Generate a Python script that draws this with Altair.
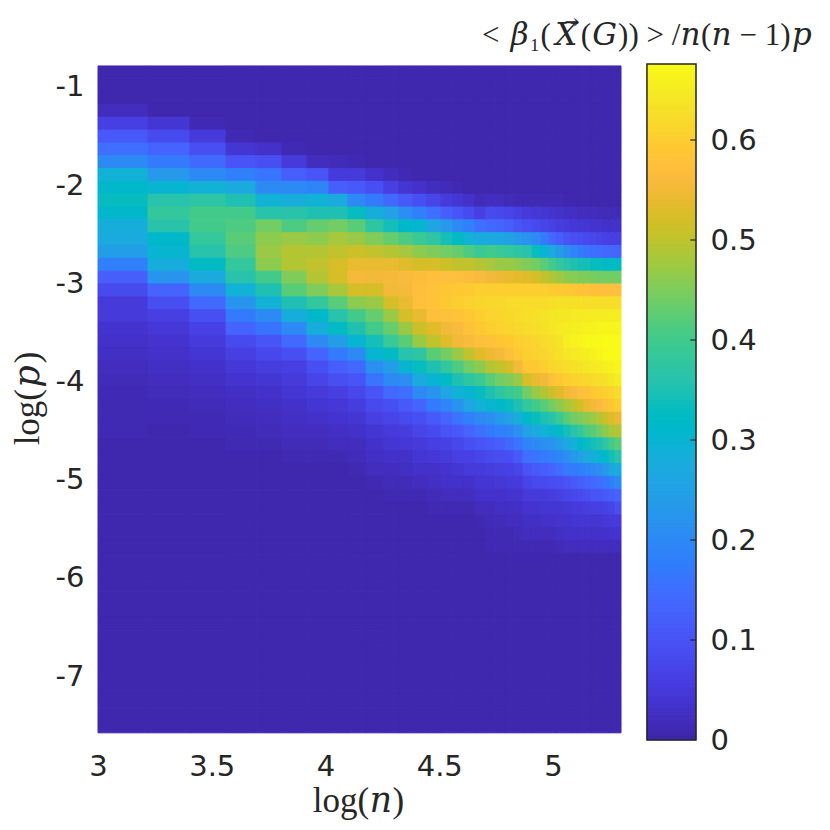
import altair as alt
import pandas as pd

# log(n) cell edges
n_edges = [3.000,3.220,3.404,3.563,3.695,3.809,3.919,4.015,4.099,4.178,4.257,4.323,4.385,4.446,4.508,4.560,4.609,4.657,4.705,4.749,4.789,4.829,4.868,4.908,4.947,4.982,5.013,5.048,5.079,5.110,5.136,5.167,5.193,5.220,5.246,5.273,5.299]
# log(p) cell edges
p_edges = [-0.786,-0.917,-1.047,-1.178,-1.308,-1.439,-1.570,-1.700,-1.831,-1.961,-2.092,-2.223,-2.353,-2.484,-2.614,-2.745,-2.876,-3.006,-3.137,-3.267,-3.398,-3.529,-3.659,-3.790,-3.920,-4.051,-4.182,-4.312,-4.443,-4.573,-4.704,-4.835,-4.965,-5.096,-5.226,-5.357,-5.488,-5.618,-5.749,-5.879,-6.010,-6.141,-6.271,-6.402,-6.532,-6.663,-6.794,-6.924,-7.055,-7.185,-7.316,-7.447,-7.577]
background = 0.005

# (first row, values downward)
col00 = (3, [.02,.06,.11,.15,.20,.29,.31,.33,.31,.28,.27,.24,.18,.12,.08,.05,.05,.035,.03,.025,.02,.015,.012,.01,.01,.01])
col01 = (3, [.005,.04,.08,.13,.17,.23,.30,.36,.38,.36,.31,.30,.28,.22,.13,.09,.06,.045,.035,.03,.025,.02,.015,.012,.01])
col02 = (4, [.01,.05,.09,.14,.20,.29,.37,.40,.40,.38,.36,.32,.27,.20,.14,.09,.065,.05,.04,.03,.025,.02,.015,.012,.01])
col03 = (5, [.01,.04,.10,.18,.27,.35,.40,.41,.42,.41,.38,.36,.29,.22,.17,.13,.08,.06,.045,.035,.025,.02,.015,.012,.01])
col04 = (5, [.005,.03,.09,.16,.20,.29,.36,.44,.46,.47,.46,.40,.35,.29,.20,.16,.10,.075,.055,.04,.03,.025,.02,.015,.01])
col05 = (6, [.01,.05,.12,.20,.28,.36,.41,.47,.49,.49,.45,.42,.35,.28,.20,.14,.09,.06,.05,.04,.03,.025,.02,.015,.01])
col06 = (7, [.02,.10,.19,.29,.35,.43,.46,.49,.50,.49,.45,.38,.31,.28,.20,.13,.09,.07,.05,.04,.03,.02,.015,.01])
col07 = (7, [.015,.05,.12,.27,.35,.44,.48,.50,.52,.52,.48,.42,.36,.32,.24,.17,.12,.09,.06,.045,.035,.025,.02,.01])
col08 = (7, [.01,.05,.11,.20,.33,.42,.47,.51,.54,.555,.52,.46,.40,.35,.30,.20,.14,.10,.075,.055,.04,.03,.02,.015,.01])
col09 = (8, [.03,.09,.17,.28,.37,.45,.50,.54,.55,.52,.47,.43,.40,.34,.30,.21,.16,.10,.08,.06,.04,.03,.025,.02,.01])
col10 = (8, [.02,.06,.14,.25,.34,.43,.49,.54,.555,.55,.52,.47,.43,.39,.32,.24,.20,.14,.09,.07,.05,.04,.03,.02,.015,.01])
col11 = (8, [.01,.04,.11,.21,.31,.41,.48,.53,.56,.555,.54,.52,.47,.42,.36,.30,.21,.15,.11,.08,.055,.045,.03,.025,.015,.01])
col12 = (8, [.005,.03,.09,.18,.30,.39,.46,.52,.565,.57,.57,.54,.51,.47,.37,.33,.27,.20,.13,.09,.07,.05,.04,.03,.02,.01])
col13 = (9, [.02,.07,.15,.26,.37,.45,.52,.57,.58,.58,.57,.53,.50,.42,.35,.30,.22,.17,.11,.08,.06,.045,.03,.025,.015,.01])
col14 = (9, [.015,.05,.12,.23,.34,.44,.51,.57,.585,.59,.575,.55,.53,.44,.38,.32,.26,.19,.13,.10,.065,.05,.035,.03,.02,.01])
col15 = (9, [.01,.04,.10,.20,.32,.43,.50,.57,.59,.60,.58,.56,.55,.47,.41,.35,.29,.22,.16,.11,.075,.06,.04,.03,.02,.01])
col16 = (9, [.005,.03,.08,.18,.29,.41,.50,.565,.595,.605,.59,.575,.56,.50,.44,.37,.30,.26,.18,.13,.09,.065,.05,.03,.02,.01])
col17 = (10, [.015,.06,.15,.27,.39,.49,.56,.60,.61,.60,.59,.57,.53,.46,.39,.33,.29,.20,.15,.10,.07,.05,.04,.03,.02,.01])
col18 = (10, [.02,.08,.14,.27,.40,.48,.55,.60,.615,.605,.60,.575,.545,.49,.42,.35,.30,.21,.17,.11,.08,.055,.04,.03,.02,.015,.01,.01])
col19 = (10, [.02,.075,.13,.26,.39,.47,.545,.60,.615,.61,.605,.585,.555,.50,.44,.37,.31,.23,.18,.12,.085,.06,.045,.03,.025,.015,.01,.01])
col20 = (10, [.015,.07,.12,.25,.38,.47,.54,.60,.62,.615,.61,.59,.57,.52,.45,.39,.33,.25,.19,.14,.09,.065,.05,.035,.025,.02,.01,.01])
col21 = (10, [.01,.06,.10,.23,.37,.46,.535,.60,.62,.62,.615,.60,.59,.55,.47,.40,.35,.28,.21,.16,.11,.07,.05,.035,.025,.02,.015,.01])
col22 = (10, [.01,.05,.09,.22,.36,.45,.53,.60,.62,.625,.62,.605,.60,.59,.52,.44,.38,.31,.25,.19,.15,.10,.07,.05,.035,.025,.02,.01])
col23 = (10, [.01,.045,.08,.20,.33,.44,.52,.60,.62,.63,.625,.61,.605,.59,.54,.47,.40,.33,.27,.20,.16,.11,.08,.05,.035,.025,.02,.01])
col24 = (10, [.01,.04,.07,.17,.30,.42,.50,.60,.62,.635,.63,.62,.61,.60,.55,.49,.42,.35,.29,.21,.17,.12,.08,.05,.04,.03,.02,.01])
col25 = (10, [.01,.035,.065,.14,.27,.40,.49,.595,.625,.64,.64,.625,.62,.61,.57,.51,.44,.36,.30,.22,.18,.13,.085,.055,.04,.03,.02,.01])
col26 = (10, [.01,.03,.055,.12,.24,.38,.475,.595,.63,.64,.645,.635,.63,.615,.59,.53,.46,.39,.32,.24,.19,.15,.09,.06,.04,.035,.025,.015])
col27 = (10, [.005,.025,.05,.10,.21,.36,.46,.59,.63,.64,.65,.655,.64,.625,.60,.55,.48,.42,.34,.27,.21,.17,.10,.07,.045,.035,.03,.02])
col28 = (10, [.005,.025,.045,.09,.19,.35,.455,.585,.63,.645,.655,.66,.645,.63,.605,.56,.50,.44,.36,.29,.23,.17,.11,.075,.05,.04,.03,.02])
col29 = (10, [.005,.02,.04,.085,.17,.34,.45,.58,.63,.645,.655,.665,.65,.635,.61,.57,.52,.45,.38,.31,.25,.18,.12,.08,.05,.04,.03,.02])
col30 = (10, [.005,.02,.04,.08,.16,.34,.45,.58,.625,.65,.66,.67,.655,.64,.615,.58,.54,.46,.41,.33,.27,.19,.13,.09,.055,.04,.03,.02])
col31 = (10, [.005,.02,.035,.075,.15,.33,.445,.575,.625,.65,.66,.67,.66,.645,.62,.59,.55,.47,.42,.34,.28,.20,.14,.10,.06,.04,.03,.02])
col32 = (10, [.005,.015,.035,.07,.145,.33,.44,.57,.625,.65,.665,.672,.665,.65,.625,.595,.56,.49,.44,.35,.30,.21,.15,.10,.06,.04,.03,.02])
col33 = (10, [.005,.015,.03,.065,.14,.32,.44,.57,.625,.65,.665,.675,.67,.655,.63,.60,.57,.51,.46,.37,.31,.23,.16,.11,.065,.045,.03,.02])
col34 = (10, [.005,.015,.03,.06,.135,.32,.44,.57,.625,.65,.665,.675,.675,.66,.64,.61,.59,.53,.48,.40,.34,.26,.18,.12,.07,.05,.035,.02])
col35 = (10, [.005,.015,.03,.06,.13,.32,.44,.57,.625,.65,.665,.675,.675,.665,.65,.62,.60,.54,.49,.42,.36,.28,.20,.13,.09,.05,.035,.02])
columns = [col00,col01,col02,col03,col04,col05,col06,col07,col08,col09,col10,col11,col12,col13,col14,col15,col16,col17,col18,col19,col20,col21,col22,col23,col24,col25,col26,col27,col28,col29,col30,col31,col32,col33,col34,col35]

parula = [(0.2422,0.1504,0.6603),(0.2504,0.1650,0.7076),(0.2578,0.1818,0.7511),(0.2647,0.1978,0.7952),(0.2706,0.2147,0.8364),(0.2751,0.2342,0.8710),(0.2783,0.2559,0.8991),(0.2803,0.2782,0.9221),(0.2813,0.3006,0.9414),(0.2810,0.3228,0.9579),(0.2795,0.3447,0.9717),(0.2760,0.3667,0.9829),(0.2699,0.3892,0.9906),(0.2602,0.4123,0.9952),(0.2440,0.4358,0.9988),(0.2206,0.4603,0.9973),(0.1963,0.4847,0.9892),(0.1834,0.5074,0.9798),(0.1786,0.5289,0.9682),(0.1764,0.5499,0.9520),(0.1687,0.5703,0.9359),(0.1540,0.5902,0.9218),(0.1460,0.6091,0.9079),(0.1380,0.6276,0.8973),(0.1248,0.6459,0.8883),(0.1113,0.6635,0.8763),(0.0952,0.6798,0.8598),(0.0689,0.6948,0.8394),(0.0297,0.7082,0.8163),(0.0036,0.7203,0.7917),(0.0067,0.7312,0.7660),(0.0433,0.7411,0.7394),(0.0964,0.7500,0.7120),(0.1408,0.7584,0.6842),(0.1717,0.7670,0.6554),(0.1938,0.7758,0.6251),(0.2161,0.7843,0.5923),(0.2470,0.7918,0.5567),(0.2906,0.7973,0.5188),(0.3406,0.8008,0.4789),(0.3909,0.8029,0.4354),(0.4456,0.8024,0.3909),(0.5044,0.7993,0.3480),(0.5616,0.7942,0.3045),(0.6174,0.7876,0.2612),(0.6720,0.7793,0.2227),(0.7242,0.7698,0.1910),(0.7738,0.7598,0.1646),(0.8203,0.7498,0.1535),(0.8634,0.7406,0.1596),(0.9035,0.7330,0.1774),(0.9393,0.7288,0.2100),(0.9728,0.7298,0.2394),(0.9956,0.7434,0.2371),(0.9970,0.7659,0.2199),(0.9952,0.7861,0.1967),(0.9892,0.8136,0.1885),(0.9786,0.8386,0.1766),(0.9676,0.8639,0.1643),(0.9610,0.8890,0.1537),(0.9597,0.9135,0.1423),(0.9628,0.9373,0.1265),(0.9691,0.9606,0.1064),(0.9769,0.9839,0.0805)]
bar_top = 0.676
color_hex = ['#%02x%02x%02x' % tuple(round(c * 255) for c in rgb) for rgb in parula]
color_domain = [bar_top * i / (len(color_hex) - 1) for i in range(len(color_hex))]
color_scale = alt.Scale(domain=color_domain, range=color_hex, clamp=True)

n_rows = len(p_edges) - 1
cells = []
for i, (first, vals) in enumerate(columns):
    for r in range(n_rows):
        k = r - first
        v = vals[k] if 0 <= k < len(vals) else background
        cells.append(dict(n1=n_edges[i], n2=n_edges[i + 1], p1=p_edges[r], p2=p_edges[r + 1], v=v))
cells_df = pd.DataFrame(cells)

x_scale = alt.Scale(domain=[3, 5.6286], nice=False, zero=False)
ink = '#262626'
TICK_FONT = 'DejaVu Sans'
TICK_SIZE = 29
MATH_FONT = 'Liberation Serif, "DejaVu Math TeX Gyre", "DejaVu Serif"'

x_axis = alt.Axis(values=[3, 3.5, 4, 4.5, 5], format='.1~f', title='log(𝑛)', grid=False, domain=False, ticks=False,
                  labelFont=TICK_FONT, labelFontSize=TICK_SIZE, labelColor=ink, labelPadding=12, labelFlush=False,
                  titleFont=MATH_FONT, titleFontSize=35, titleFontWeight='normal', titleColor=ink, titlePadding=2, titleX=260, labelOverlap=False)
y_axis = alt.Axis(values=[-1, -2, -3, -4, -5, -6, -7], title='log(𝑝)', grid=False, domain=False, ticks=False,
                  labelExpr="'-' + abs(datum.value)", labelFont=TICK_FONT, labelFontSize=TICK_SIZE, labelColor=ink, labelPadding=14,
                  titleFont=MATH_FONT, titleFontSize=35, titleFontWeight='normal', titleColor=ink, titlePadding=10, titleY=334, labelOverlap=False)

heat = alt.Chart(cells_df).mark_rect(strokeWidth=1).encode(
    x=alt.X('n1:Q', scale=x_scale, axis=x_axis),
    x2='n2:Q',
    y=alt.Y('p1:Q', scale=alt.Scale(domain=[-7.65, -0.766], nice=False, zero=False), axis=y_axis),
    y2='p2:Q',
    fill=alt.Fill('v:Q', scale=color_scale, legend=None),
    stroke=alt.Stroke('v:Q', scale=color_scale, legend=None),
)

bar_scale = alt.Scale(domain=[0, bar_top], nice=False, zero=True)
bar_steps = [round(i * 0.004, 3) for i in range(169)]
bar_df = pd.DataFrame({'v': bar_steps, 'v2': [s + 0.004 for s in bar_steps], 'a': 5.413, 'b': 5.6286})
bar_axis = alt.Axis(values=[0, .1, .2, .3, .4, .5, .6], format='.1~f', title=None, orient='right', grid=False, domain=False, ticks=False,
                    labelFont=TICK_FONT, labelFontSize=TICK_SIZE, labelColor=ink, labelPadding=14, labelOverlap=False, labelFlush=False)
bar = alt.Chart(bar_df).mark_rect(strokeWidth=0.5).encode(
    x=alt.X('a:Q', scale=x_scale), x2='b:Q',
    y=alt.Y('v:Q', scale=bar_scale, axis=bar_axis), y2='v2:Q',
    fill=alt.Fill('v:Q', scale=color_scale, legend=None),
    stroke=alt.Stroke('v:Q', scale=color_scale, legend=None),
)
frame = alt.Chart(pd.DataFrame({'a': [5.413], 'b': [5.6286], 'lo': [0], 'hi': [bar_top]})).mark_rect(fillOpacity=0, stroke=ink, strokeWidth=1.5).encode(
    x=alt.X('a:Q', scale=x_scale), x2='b:Q',
    y=alt.Y('lo:Q', scale=bar_scale, axis=None), y2='hi:Q',
)
bar_ticks = alt.Chart(pd.DataFrame({'t': [.1, .2, .3, .4, .5, .6], 'a': 5.6036, 'b': 5.6286})).mark_rule(color=ink, strokeWidth=1.2).encode(
    x=alt.X('a:Q', scale=x_scale), x2='b:Q',
    y=alt.Y('t:Q', scale=bar_scale, axis=None),
)
bar_title = alt.Chart(pd.DataFrame({'t': ['< 𝛽₁(𝑋⃗(𝐺)) > /𝑛(𝑛 − 1)𝑝']})).mark_text(
    align='left', baseline='middle', font=MATH_FONT, fontSize=31, color=ink
).encode(text='t:N', x=alt.value(384), y=alt.value(-28))

chart = alt.layer(heat, bar, frame, bar_ticks, bar_title).resolve_scale(y='independent').properties(
    width=598, height=676,
    padding={'left': 90, 'top': 56, 'right': 126, 'bottom': 82},
    autosize=alt.AutoSizeParams(type='none'),
    background='white',
).configure_view(stroke=None)

chart.save("out.html", embed_options={"renderer": "svg", "actions": False})
